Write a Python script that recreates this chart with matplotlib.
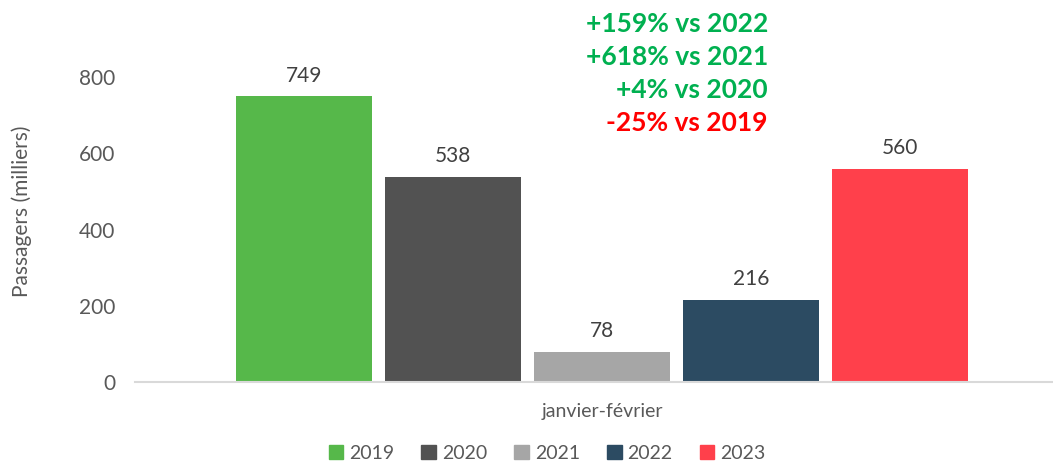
import matplotlib
matplotlib.use('Agg')
from matplotlib import pyplot as plt
from matplotlib.patches import Patch

years = ['2019', '2020', '2021', '2022', '2023']
passagers = [749, 538, 78, 216, 560]
colors = ['#56B84A', '#525252', '#A6A6A6', '#2C4B62', '#FF404B']
category = 'janvier-février'
notes = ['+159% vs 2022', '+618% vs 2021', '+4% vs 2020', '-25% vs 2019']
note_colors = ['#00B050', '#00B050', '#00B050', '#FF0000']

plt.rcParams['font.family'] = ['Lato', 'DejaVu Sans']
grey = '#595959'

fig = plt.figure(figsize=(10.53, 4.61), dpi=100)
ax = fig.add_axes([135 / 1053, 79 / 461, 918 / 1053, 343.1 / 461])

x = list(range(len(years)))
bars = ax.bar(x, passagers, width=0.91, color=colors)
for xi, v in zip(x, passagers):
	ax.annotate(str(v), (xi, v), xytext=(0, 15), textcoords='offset points',
				ha='center', va='center', fontsize=15, color='#404040')

ax.set_xlim((135 - 304) / 149, (1053 - 304) / 149)
ax.set_ylim(0, 900)
ax.set_yticks([0, 200, 400, 600, 800])
ax.set_xticks([2.0])
ax.set_xticklabels([category])
ax.tick_params(axis='x', length=0, pad=15, labelsize=14, labelcolor=grey)
ax.tick_params(axis='y', length=0, pad=14, labelsize=15, labelcolor=grey)
for s in ['top', 'right', 'left']:
	ax.spines[s].set_visible(False)
ax.spines['bottom'].set_color('#D9D9D9')
ax.spines['bottom'].set_linewidth(1.5)

fig.text(22 / 1053, 1 - 211 / 461, 'Passagers (milliers)', rotation=90,
		 ha='center', va='center', fontsize=15, color=grey)

for i, (t, c) in enumerate(zip(notes, note_colors)):
	fig.text(768 / 1053, 1 - (24 + 33 * i) / 461, t, ha='right', va='center',
			 fontsize=19, fontweight='bold', color=c)

handles = [Patch(color=c, label=y) for c, y in zip(colors, years)]
fig.legend(handles=handles, loc='center', bbox_to_anchor=(547 / 1053, 8 / 461),
		   ncol=5, frameon=False, fontsize=14, labelcolor=grey,
		   handlelength=0.75, handleheight=0.75, handletextpad=0.3, columnspacing=1.4)

plt.savefig('out.png', dpi=100)
